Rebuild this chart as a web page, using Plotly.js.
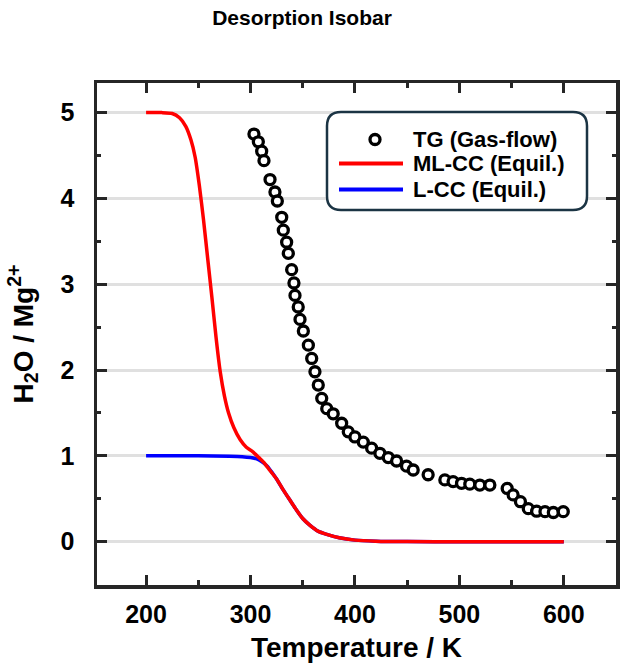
<!DOCTYPE html>
<html>
<head>
<meta charset="utf-8">
<script src="https://cdn.plot.ly/plotly-3.0.1.min.js"></script>
<style>
  html, body { margin: 0; padding: 0; background: #ffffff; }
  #chart { width: 621px; height: 665px; }
</style>
</head>
<body>
<div id="chart"></div>
<script>
// TG measurement under gas flow: temperature (K) and water per Mg2+
const tempTG = [303.3, 307.5, 310.7, 312.9, 318.7, 323.4, 325.7, 329.9, 331.4, 334.6,
                336.2, 339.4, 341.6, 342.6, 345.7, 347.4, 350.6, 355.4, 358.6, 361.7,
                364.9, 368.2, 373.0, 379.2, 387.3, 393.6, 400.0, 408.0, 416.0, 423.9,
                431.9, 439.9, 449.4, 455.8, 470.1, 486.1, 494.0, 502.1, 510.0, 519.6,
                529.2, 545.8, 551.5, 558.5, 566.0, 574.0, 582.0, 590.0, 599.5];
const waterTG = [4.75, 4.66, 4.55, 4.44, 4.22, 4.075, 3.97, 3.78, 3.63, 3.49,
                 3.36, 3.17, 3.015, 2.87, 2.735, 2.59, 2.455, 2.29, 2.135, 1.98,
                 1.825, 1.67, 1.55, 1.49, 1.38, 1.28, 1.22, 1.16, 1.09, 1.03,
                 0.98, 0.94, 0.88, 0.835, 0.78, 0.72, 0.70, 0.68, 0.67, 0.66,
                 0.66, 0.62, 0.545, 0.466, 0.385, 0.355, 0.35, 0.34, 0.35];

// ML-CC equilibrium isobar
const tempML = [200, 215, 225, 232, 238, 243, 247, 251, 255, 259, 263, 267, 271, 275,
                279, 284, 290, 296, 302, 308, 313, 318, 325, 331, 338, 344, 350, 357,
                365, 373, 385, 400, 420, 450, 500, 600];
const waterML = [5.0, 5.0, 4.99, 4.94, 4.84, 4.68, 4.48, 4.15, 3.75, 3.3, 2.85, 2.38, 1.98, 1.7,
                 1.5, 1.33, 1.19, 1.1, 1.05, 0.98, 0.92, 0.84, 0.73, 0.61, 0.48, 0.37, 0.27, 0.19,
                 0.12, 0.085, 0.045, 0.018, 0.006, 0.001, 0.0, 0.0];

// L-CC equilibrium isobar
const tempL = [200, 250, 280, 292, 300, 306, 311, 316, 321, 325, 331, 338, 344, 350, 357,
               365, 373, 385, 400, 420, 450, 500, 600];
const waterL = [1.0, 1.0, 0.995, 0.99, 0.98, 0.965, 0.93, 0.88, 0.8, 0.73, 0.61, 0.48, 0.37, 0.27, 0.19,
                0.12, 0.085, 0.045, 0.018, 0.006, 0.001, 0.0, 0.0];

const xTickVals = [200, 300, 400, 500, 600];
const yTickVals = [0, 1, 2, 3, 4, 5];

const seriesNames = ['TG (Gas-flow)', 'ML-CC (Equil.)', 'L-CC (Equil.)'];

const FONT = 'Liberation Sans, Arial, Helvetica, sans-serif';
const INK = '#262626';

// plot-area geometry in pixels, used to place the boxed key in paper units
const W = 621, H = 665;
const M = { l: 97, r: 5, t: 83, b: 80 };
const PW = W - M.l - M.r, PH = H - M.t - M.b;
const px2x = p => (p - M.l) / PW;
const px2y = p => (H - M.b - p) / PH;

const traces = [
  {
    x: tempL, y: waterL, name: seriesNames[2], type: 'scatter', mode: 'lines',
    line: { color: '#0000ff', width: 3.5, shape: 'spline', smoothing: 0.6 },
    showlegend: false, hoverinfo: 'skip'
  },
  {
    x: tempML, y: waterML, name: seriesNames[1], type: 'scatter', mode: 'lines',
    line: { color: '#ff0000', width: 3.5, shape: 'spline', smoothing: 0.6 },
    showlegend: false, hoverinfo: 'skip'
  },
  {
    x: tempTG, y: waterTG, name: seriesNames[0], type: 'scatter', mode: 'markers',
    marker: { symbol: 'circle', size: 10, color: '#ffffff', line: { color: '#000000', width: 3.3 } },
    showlegend: false, hoverinfo: 'skip'
  }
];

// boxed key with rounded corners
const box = { x0: px2x(327), x1: px2x(587), y0: px2y(210), y1: px2y(112) };
const rx = 14 / PW, ry = 14 / PH;
const boxPath = [
  'M', box.x0 + rx, box.y1,
  'L', box.x1 - rx, box.y1,
  'Q', box.x1, box.y1, box.x1, box.y1 - ry,
  'L', box.x1, box.y0 + ry,
  'Q', box.x1, box.y0, box.x1 - rx, box.y0,
  'L', box.x0 + rx, box.y0,
  'Q', box.x0, box.y0, box.x0, box.y0 + ry,
  'L', box.x0, box.y1 - ry,
  'Q', box.x0, box.y1, box.x0 + rx, box.y1, 'Z'
].join(' ');

const rowY = [139.5, 163.5, 189.5];
const swatchX0 = px2x(339), swatchX1 = px2x(403), markX = px2x(375), textX = px2x(411);

const shapes = [
  { type: 'path', xref: 'paper', yref: 'paper', path: boxPath, layer: 'above',
    fillcolor: '#ffffff', line: { color: '#1b3444', width: 2.5 } },
  { type: 'circle', xref: 'paper', yref: 'paper', layer: 'above',
    xsizemode: 'pixel', ysizemode: 'pixel', xanchor: markX, yanchor: px2y(rowY[0]),
    x0: -5, x1: 5, y0: -5, y1: 5,
    fillcolor: '#ffffff', line: { color: '#000000', width: 3.3 } },
  { type: 'line', xref: 'paper', yref: 'paper', layer: 'above',
    x0: swatchX0, x1: swatchX1, y0: px2y(rowY[1]), y1: px2y(rowY[1]),
    line: { color: '#ff0000', width: 4 } },
  { type: 'line', xref: 'paper', yref: 'paper', layer: 'above',
    x0: swatchX0, x1: swatchX1, y0: px2y(rowY[2]), y1: px2y(rowY[2]),
    line: { color: '#0000ff', width: 4 } }
];

const annotations = seriesNames.map((name, i) => ({
  xref: 'paper', yref: 'paper', x: textX, y: px2y(rowY[i]),
  xanchor: 'left', yanchor: 'middle', showarrow: false, text: name,
  font: { family: FONT, size: 22, weight: 'bold', color: '#000000' }
}));

const axisCommon = {
  showline: true, linecolor: INK, linewidth: 3.5, mirror: 'ticks',
  ticks: 'inside', ticklen: 10, tickwidth: 3, tickcolor: INK,
  tickfont: { family: FONT, size: 25, weight: 'bold', color: '#000000' },
  zeroline: false
};

const layout = {
  width: W, height: H,
  margin: M,
  paper_bgcolor: '#ffffff', plot_bgcolor: '#ffffff',
  showlegend: false,
  title: {
    text: 'Desorption Isobar',
    font: { family: FONT, size: 21, weight: 'bold', color: '#000000' },
    xref: 'container', x: 302 / W, xanchor: 'center',
    yref: 'container', y: 1 - 18 / H, yanchor: 'middle'
  },
  xaxis: Object.assign({}, axisCommon, {
    range: [153, 650],
    tickvals: xTickVals,
    showgrid: false,
    ticklabelstandoff: 4,
    minor: { dtick: 50, tick0: 0, ticks: 'inside', ticklen: 5, tickwidth: 3, tickcolor: INK, showgrid: false },
    title: { text: 'Temperature / K', standoff: 12,
             font: { family: FONT, size: 28, weight: 'bold', color: '#000000' } }
  }),
  yaxis: Object.assign({}, axisCommon, {
    range: [-0.505, 5.345],
    tickvals: yTickVals,
    showgrid: true, gridcolor: '#e0e0e0', gridwidth: 3,
    ticklabelstandoff: 14,
    minor: { dtick: 0.5, tick0: 0, ticks: 'inside', ticklen: 4, tickwidth: 3, tickcolor: INK, showgrid: false },
    title: { text: 'H<sub>2</sub>O / Mg<sup>2+</sup>', standoff: 20,
             font: { family: FONT, size: 28, weight: 'bold', color: '#000000' } }
  }),
  shapes: shapes,
  annotations: annotations
};

Plotly.newPlot('chart', traces, layout, { displayModeBar: false, staticPlot: true });
</script>
</body>
</html>
